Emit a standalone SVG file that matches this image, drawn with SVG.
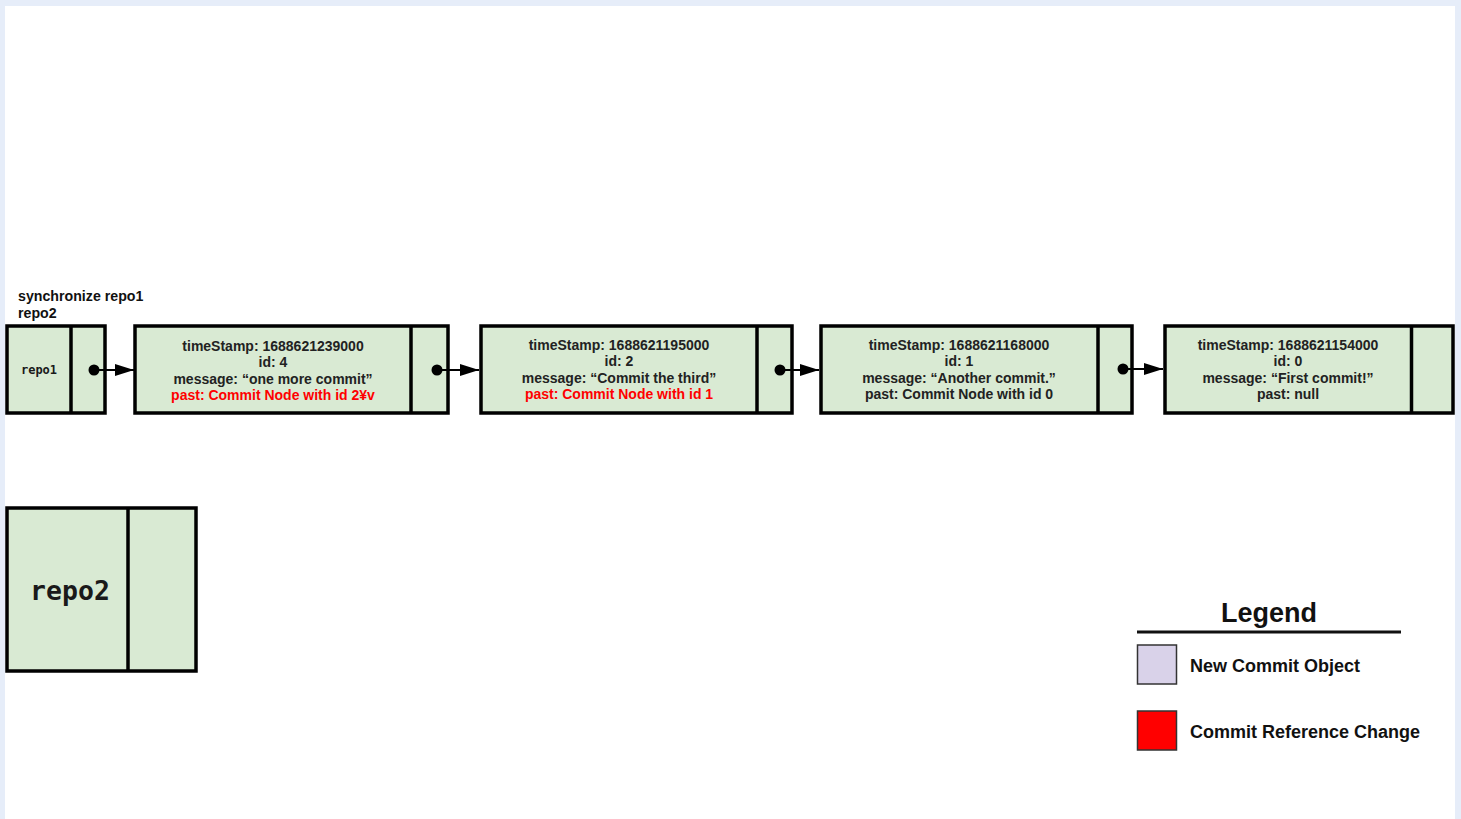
<svg xmlns="http://www.w3.org/2000/svg" width="1461" height="819" viewBox="0 0 1461 819">
<defs>
<style>
.box{fill:#d9ead3;stroke:#000;stroke-width:3.5}
.div{stroke:#000;stroke-width:3.5}
.t{font-family:"Liberation Sans",Arial,sans-serif;font-weight:bold;font-size:14px;fill:#222;text-anchor:middle}
.red{fill:#ff0000}
.mono{font-family:"DejaVu Sans Mono",monospace;font-weight:bold;fill:#1a1a1a;text-anchor:middle}
.conn{stroke:#000;stroke-width:2;fill:none;marker-end:url(#ah)}
.dot{fill:#000}
.lg{font-family:"Liberation Sans",Arial,sans-serif;font-weight:bold;fill:#111}
</style>
<marker id="ah" viewBox="0 0 19 12" refX="19" refY="6" markerWidth="19" markerHeight="12" markerUnits="userSpaceOnUse" orient="auto">
<path d="M0,0 L19,6 L0,12 Z" fill="#000"/>
</marker>
</defs>
<rect x="0" y="0" width="1461" height="819" fill="#e6edf9"/>
<rect x="5" y="6" width="1450" height="813" fill="#ffffff"/>

<g id="title">
<text class="lg" x="18" y="301" font-size="14.2">synchronize repo1</text>
<text class="lg" x="18" y="318" font-size="14.2">repo2</text>
</g>

<g id="repo1">
<rect class="box" x="7" y="326" width="98" height="87"/>
<line class="div" x1="71" y1="326" x2="71" y2="413"/>
<text class="mono" x="39" y="374" font-size="12">repo1</text>
</g>

<g id="commit4">
<rect class="box" x="135" y="326" width="313" height="87"/>
<line class="div" x1="411" y1="326" x2="411" y2="413"/>
<text class="t" x="273" y="351">timeStamp: 1688621239000</text>
<text class="t" x="273" y="367">id: 4</text>
<text class="t" x="273" y="384">message: “one more commit”</text>
<text class="t red" x="273" y="400">past: Commit Node with id 2¥v</text>
</g>

<g id="commit2">
<rect class="box" x="481" y="326" width="311" height="87"/>
<line class="div" x1="757" y1="326" x2="757" y2="413"/>
<text class="t" x="619" y="350">timeStamp: 1688621195000</text>
<text class="t" x="619" y="366">id: 2</text>
<text class="t" x="619" y="383">message: “Commit the third”</text>
<text class="t red" x="619" y="399">past: Commit Node with id 1</text>
</g>

<g id="commit1">
<rect class="box" x="821" y="326" width="311" height="87"/>
<line class="div" x1="1098" y1="326" x2="1098" y2="413"/>
<text class="t" x="959" y="350">timeStamp: 1688621168000</text>
<text class="t" x="959" y="366">id: 1</text>
<text class="t" x="959" y="383">message: “Another commit.”</text>
<text class="t" x="959" y="399">past: Commit Node with id 0</text>
</g>

<g id="commit0">
<rect class="box" x="1165" y="326" width="288" height="87"/>
<line class="div" x1="1411.5" y1="326" x2="1411.5" y2="413"/>
<text class="t" x="1288" y="350">timeStamp: 1688621154000</text>
<text class="t" x="1288" y="366">id: 0</text>
<text class="t" x="1288" y="383">message: “First commit!”</text>
<text class="t" x="1288" y="399">past: null</text>
</g>

<g id="repo2">
<rect class="box" x="7" y="508" width="189" height="163"/>
<line class="div" x1="128" y1="508" x2="128" y2="671"/>
<text class="mono" x="70" y="600" font-size="26.5">repo2</text>
</g>

<g id="connectors">
<circle class="dot" cx="94" cy="370" r="5.5"/>
<line class="conn" x1="94" y1="370" x2="134" y2="370"/>
<circle class="dot" cx="437" cy="370" r="5.5"/>
<line class="conn" x1="437" y1="370" x2="479" y2="370"/>
<circle class="dot" cx="780" cy="370" r="5.5"/>
<line class="conn" x1="780" y1="370" x2="819" y2="370"/>
<circle class="dot" cx="1123" cy="369" r="5.5"/>
<line class="conn" x1="1123" y1="369" x2="1163" y2="369"/>
</g>

<g id="legend">
<text class="lg" x="1269" y="622" font-size="27" text-anchor="middle">Legend</text>
<line x1="1137" y1="632" x2="1401" y2="632" stroke="#111" stroke-width="3"/>
<rect x="1137.5" y="645" width="39" height="39" fill="#d9d2e9" stroke="#333" stroke-width="1.5"/>
<text class="lg" x="1190" y="672" font-size="18">New Commit Object</text>
<rect x="1137.5" y="711" width="39" height="39" fill="#ff0000" stroke="#333" stroke-width="1.5"/>
<text class="lg" x="1190" y="738" font-size="18">Commit Reference Change</text>
</g>
</svg>
